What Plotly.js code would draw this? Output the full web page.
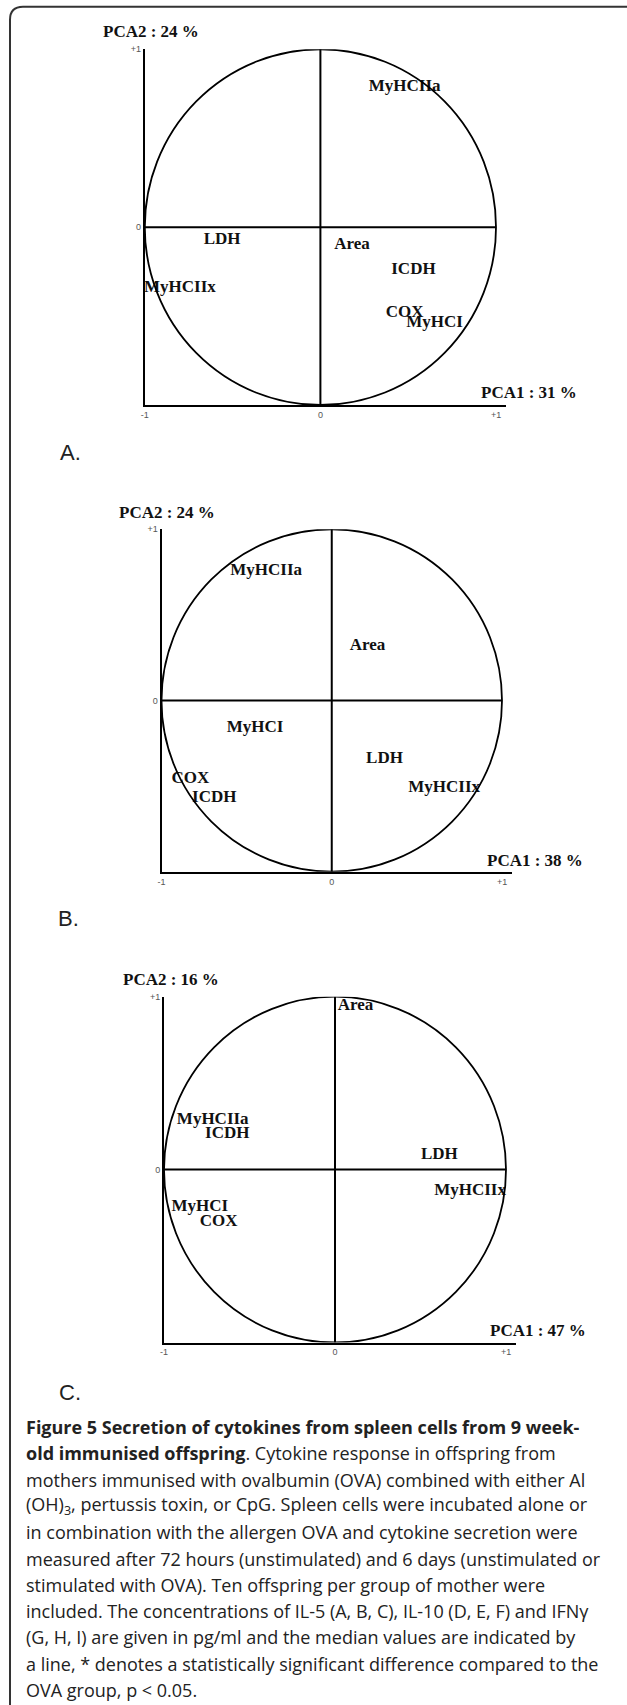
<!DOCTYPE html>
<html>
<head>
<meta charset="utf-8">
<script src="https://cdn.plot.ly/plotly-3.0.1.min.js"></script>
<style>
html,body{margin:0;padding:0;background:#fff;}
#chart{width:627px;height:1705px;}
</style>
</head>
<body>
<div id="chart"></div>
<script>
// ---- Data (variable positions on the correlation circles) ----
const labelsA = ['MyHCIIa','LDH','Area','ICDH','MyHCIIx','COX','MyHCI'];
const xA = [0.48,-0.56,0.18,0.53,-0.80,0.48,0.65];
const yA = [0.79,-0.07,-0.10,-0.24,-0.34,-0.48,-0.54];

const labelsB = ['MyHCIIa','Area','MyHCI','LDH','COX','MyHCIIx','ICDH'];
const xB = [-0.385,0.21,-0.45,0.31,-0.83,0.66,-0.69];
const yB = [0.76,0.32,-0.16,-0.34,-0.46,-0.51,-0.57];

const labelsC = ['Area','MyHCIIa','ICDH','LDH','MyHCIIx','MyHCI','COX'];
const xC = [0.12,-0.715,-0.63,0.61,0.79,-0.79,-0.68];
const yC = [0.95,0.29,0.21,0.085,-0.12,-0.215,-0.30];

const pca1Titles = ['PCA1 : 31 %','PCA1 : 38 %','PCA1 : 47 %'];
const pca2Titles = ['PCA2 : 24 %','PCA2 : 24 %','PCA2 : 16 %'];
const panelLetters = ['A.','B.','C.'];
const xTickVals = [-1,0,1];
const xTickText = ['-1','0','+1'];
const yTickVals = [0,1];
const yTickText = ['0','+1'];

const captionLines = [
  '<b>Figure 5 Secretion of cytokines from spleen cells from 9 week-</b>',
  '<b>old immunised offspring</b>. Cytokine response in offspring from',
  'mothers immunised with ovalbumin (OVA) combined with either Al',
  '(OH)<sub>3</sub>, pertussis toxin, or CpG. Spleen cells were incubated alone or',
  'in combination with the allergen OVA and cytokine secretion were',
  'measured after 72 hours (unstimulated) and 6 days (unstimulated or',
  'stimulated with OVA). Ten offspring per group of mother were',
  'included. The concentrations of IL-5 (A, B, C), IL-10 (D, E, F) and IFNγ',
  '(G, H, I) are given in pg/ml and the median values are indicated by',
  'a line, * denotes a statistically significant difference compared to the',
  'OVA group, p &lt; 0.05.'
];

// ---- Layout geometry (pixels) ----
const W = 627, H = 1705;
const px = v => v / W;
const py = v => 1 - v / H;

// per panel: axis left, circle right, axis right end, top, bottom
const panels = [
  {l:144.8, cr:496, r:506, t:49.3, b:405,  t2:[151,31.7],  t1:[528.5,393],  let:[58,453]},
  {l:161.5, cr:502, r:512, t:529.3, b:871.7, t2:[167.4,512.7], t1:[534.5,860], let:[56,918]},
  {l:164,   cr:506, r:516, t:996.7, b:1342.5, t2:[170.5,979.3], t1:[538,1330.7], let:[57,1392]}
];

const serif = 'Liberation Serif, Times New Roman, serif';
const sans = 'Liberation Sans, Arial, sans-serif';

const labelSets = [[labelsA,xA,yA],[labelsB,xB,yB],[labelsC,xC,yC]];
const data = [];
const layout = {
  width: W, height: H,
  margin: {l:0,r:0,t:0,b:0},
  paper_bgcolor: '#fff', plot_bgcolor: 'rgba(0,0,0,0)',
  showlegend: false,
  shapes: [], annotations: []
};

panels.forEach((p, i) => {
  const n = i === 0 ? '' : String(i+1);
  const xr = -1 + 2 * (p.r - p.l) / (p.cr - p.l);
  const axCommon = {
    showline: true, linecolor: '#000', linewidth: 2,
    showgrid: false, zeroline: false, ticks: '',
    tickfont: {family: sans, size: 9, color: '#555'},
    fixedrange: true
  };
  layout['xaxis' + n] = Object.assign({}, axCommon, {
    domain: [px(p.l), px(p.r)], range: [-1, xr], anchor: 'y' + n,
    tickvals: xTickVals, ticktext: xTickText
  });
  layout['yaxis' + n] = Object.assign({}, axCommon, {
    domain: [py(p.b), py(p.t)], range: [-1, 1], anchor: 'x' + n,
    tickvals: yTickVals, ticktext: yTickText
  });
  const xref = 'x' + n, yref = 'y' + n;
  layout.shapes.push(
    {type:'circle', xref, yref, x0:-1, x1:1, y0:-1, y1:1, line:{color:'#000', width:1.8}},
    {type:'line', xref, yref, x0:-1, x1:1, y0:0, y1:0, line:{color:'#000', width:2}},
    {type:'line', xref, yref, x0:0, x1:0, y0:-1, y1:1, line:{color:'#000', width:2}}
  );
  const [lab, xs, ys] = labelSets[i];
  data.push({
    type: 'scatter', mode: 'text', x: xs, y: ys, text: lab,
    xaxis: xref, yaxis: yref, textposition: 'middle center', cliponaxis: false,
    textfont: {family: serif, size: 17, color: '#111', weight: 'bold'},
    hoverinfo: 'skip'
  });
  layout.annotations.push(
    {xref:'paper', yref:'paper', x:px(p.t2[0]), y:py(p.t2[1]), xanchor:'center', yanchor:'middle',
     text:'<b>'+pca2Titles[i]+'</b>', showarrow:false, font:{family:serif, size:17, color:'#111'}},
    {xref:'paper', yref:'paper', x:px(p.t1[0]), y:py(p.t1[1]), xanchor:'center', yanchor:'middle',
     text:'<b>'+pca1Titles[i]+'</b>', showarrow:false, font:{family:serif, size:17, color:'#111'}},
    {xref:'paper', yref:'paper', x:px(p.let[0]), y:py(p.let[1]), xanchor:'left', yanchor:'middle',
     text:panelLetters[i], showarrow:false, font:{family:sans, size:22, color:'#222'}}
  );
});

// caption lines
captionLines.forEach((t, k) => {
  layout.annotations.push({
    xref:'paper', yref:'paper', x:px(24), y:py(1427 + k*26.3), xanchor:'left', yanchor:'middle',
    text:t, showarrow:false, align:'left', font:{family:'Open Sans, sans-serif', size:18, color:'#222'}
  });
});

// outer frame (left edge + top edge with rounded corner)
const fx = 10, fy = 6.7, rad = 13;
layout.shapes.push({
  type:'path', xref:'paper', yref:'paper',
  path: 'M ' + px(fx) + ' ' + py(H+5) + ' L ' + px(fx) + ' ' + py(fy+rad) +
        ' Q ' + px(fx) + ' ' + py(fy) + ' ' + px(fx+rad) + ' ' + py(fy) +
        ' L ' + px(W+5) + ' ' + py(fy),
  line:{color:'#333', width:2}
});

Plotly.newPlot('chart', data, layout, {staticPlot:true, displayModeBar:false});
</script>
</body>
</html>
